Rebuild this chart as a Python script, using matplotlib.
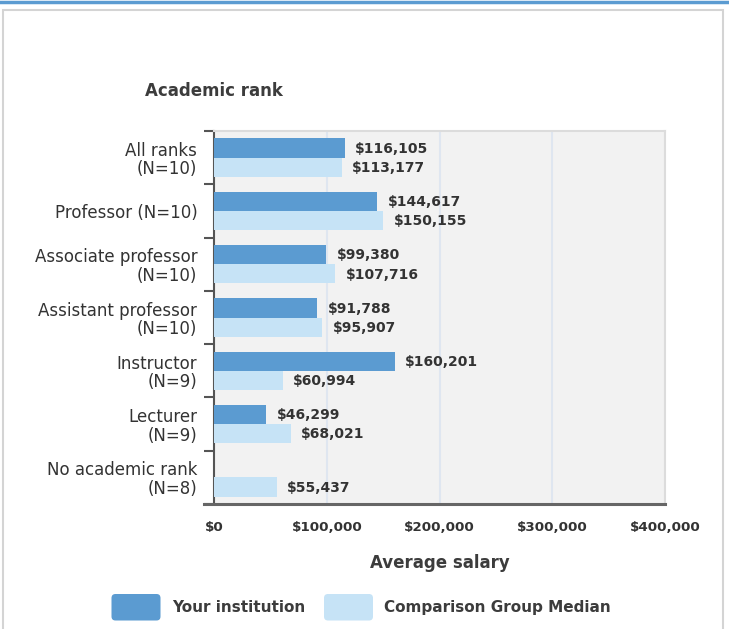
import numpy as np
import matplotlib
matplotlib.use('Agg')
import matplotlib.pyplot as plt
from matplotlib.patches import FancyBboxPatch, Rectangle
from matplotlib.lines import Line2D
from matplotlib.ticker import FuncFormatter

ranks = ['All ranks\n(N=10)', 'Professor (N=10)', 'Associate professor\n(N=10)',
         'Assistant professor\n(N=10)', 'Instructor\n(N=9)', 'Lecturer\n(N=9)',
         'No academic rank\n(N=8)']
your_institution = [116105, 144617, 99380, 91788, 160201, 46299, np.nan]
comparison_median = [113177, 150155, 107716, 95907, 60994, 68021, 55437]
series_names = ['Your institution', 'Comparison Group Median']
x_ticks = [0, 100000, 200000, 300000, 400000]

DARK = '#5b9bd1'
LIGHT = '#c6e3f6'
TXT = '#333333'

plt.rcParams['font.family'] = ['DejaVu Sans']

fig = plt.figure(figsize=(7.29, 6.29), dpi=100)

# page decoration: blue rule on top and the grey panel frame
fig.add_artist(Line2D([0, 1], [0.9975, 0.9975], color='#5b9bd1', lw=2.5))
fig.add_artist(Rectangle((3 / 729, -0.05), 720 / 729, 1.05 - 10 / 629,
                         fill=False, ec='#d4d4d4', lw=1.5))

ax = fig.add_axes([214 / 729, 1 - 504 / 629, 451 / 729, 373 / 629])
ax.set_facecolor('#f2f2f2')

y = np.arange(len(ranks))
h = 0.36
dark = ax.barh(y - 0.18, your_institution, height=h, color=DARK, zorder=3)
light = ax.barh(y + 0.18, comparison_median, height=h, color=LIGHT, zorder=3)

# value labels at the end of each bar
for bars, vals in ((dark, your_institution), (light, comparison_median)):
    for rec, v in zip(bars, vals):
        if np.isnan(v):
            continue
        ax.annotate(f'${v:,.0f}', (v, rec.get_y() + rec.get_height() / 2),
                    xytext=(7.5, -0.5), textcoords='offset points',
                    ha='left', va='center', fontsize=10, fontweight='bold',
                    color=TXT)

ax.set_xlim(0, 400000)
ax.set_ylim(len(ranks) - 0.5, -0.5)

ax.set_xticks(x_ticks)
ax.xaxis.set_major_formatter(FuncFormatter(lambda v, p: f'${v:,.0f}'))
ax.tick_params(axis='x', length=0, pad=12, labelsize=9.7, labelcolor=TXT)
for lab in ax.get_xticklabels():
    lab.set_fontweight('bold')
ax.grid(axis='x', color='#dfe6f0', lw=1.5, zorder=1)

ax.set_yticks(y)
ax.set_yticklabels(ranks, fontsize=12, color=TXT, linespacing=1.05)
ax.set_yticks(np.arange(len(ranks) + 1) - 0.5, minor=True)
ax.tick_params(axis='y', which='major', length=0, pad=12)
ax.tick_params(axis='y', which='minor', length=7, width=1.5, color='#555555')
for lab in ax.get_yticklabels():
    lab.set_y(lab.get_position()[1])

for side in ('top', 'right'):
    ax.spines[side].set_color('#dcdcdc')
    ax.spines[side].set_linewidth(1.5)
ax.spines['left'].set_color('#555555')
ax.spines['left'].set_linewidth(1.5)
ax.spines['bottom'].set_color('#666666')
ax.spines['bottom'].set_linewidth(2.2)
ax.spines['bottom'].set_bounds(-9000, 400000)
ax.spines['bottom'].set_zorder(4)

ax.set_xlabel('Average salary', fontsize=12, fontweight='bold', color='#3c3c3c')
ax.xaxis.set_label_coords(0.5, -0.135)
ax.text(0.0, 1.107, 'Academic rank', transform=ax.transAxes, ha='center',
        va='center', fontsize=12, fontweight='bold', color='#3c3c3c')

# legend with rounded swatches
for x0, color, name, tx in ((1.115, DARK, series_names[0], 1.72),
                            (3.24, LIGHT, series_names[1], 3.84)):
    fig.add_artist(FancyBboxPatch((x0, 0.085), 0.49, 0.265,
                                  boxstyle='round,pad=0,rounding_size=0.04',
                                  fc=color, ec='none',
                                  transform=fig.dpi_scale_trans))
    fig.text(tx / 7.29, 0.2175 / 6.29, name, ha='left', va='center',
             fontsize=11, fontweight='bold', color='#3c3c3c')

fig.savefig('out.png', dpi=100)
